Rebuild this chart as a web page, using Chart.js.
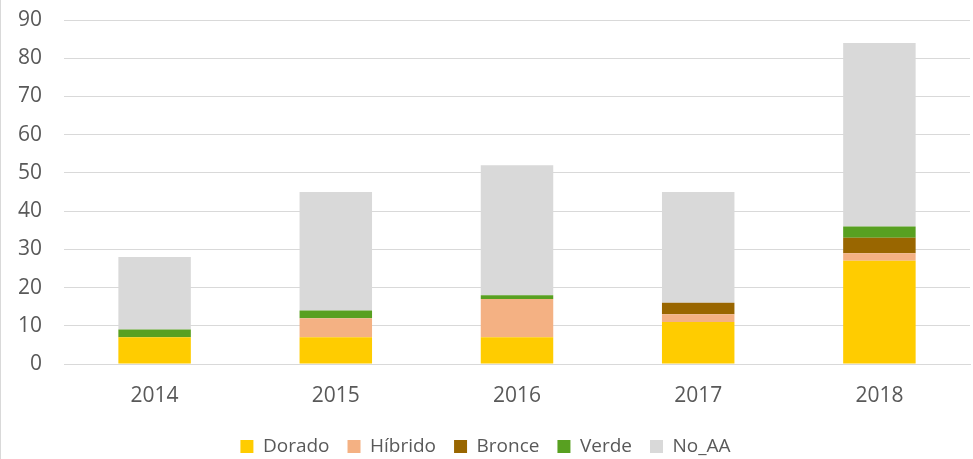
<!DOCTYPE html>
<html><head><meta charset="utf-8">
<script src="https://cdn.jsdelivr.net/npm/chart.js@4"></script>
<style>
html,body{margin:0;padding:0;background:#fff;}
#wrap{position:relative;width:973px;height:459px;box-sizing:border-box;border-left:1px solid #d9d9d9;}
</style></head><body>
<div id="wrap"><canvas id="c" width="972" height="459"></canvas></div>
<script>
const categories = ['2014','2015','2016','2017','2018'];
const dorado  = [7, 7, 7, 11, 27];
const hibrido = [0, 5, 10, 2, 2];
const bronce  = [0, 0, 0, 3, 4];
const verde   = [2, 2, 1, 0, 3];
const noAA    = [19, 31, 34, 29, 48];
const seriesNames = ['Dorado','Híbrido','Bronce','Verde','No_AA'];
const seriesColors = ['#FFCC00','#F4B183','#996600','#58A021','#D9D9D9'];
const yTicks = [0,10,20,30,40,50,60,70,80,90];

const FONT = "'Open Sans', 'Liberation Sans', sans-serif";
const values = [dorado, hibrido, bronce, verde, noAA];
const datasets = values.map((v,i)=>({
  label: seriesNames[i], data: v, backgroundColor: seriesColors[i],
  borderWidth: 0, categoryPercentage: 0.8, barPercentage: 0.5
}));

new Chart(document.getElementById('c'), {
  type: 'bar',
  data: { labels: categories, datasets },
  options: {
    responsive: false, animation: false,
    layout: { padding: { top: 20, right: 3, left: 0, bottom: -7 } },
    scales: {
      x: { stacked: true,
        afterFit: s => { s.height = 55; },
        grid: { display: false, drawTicks: false },
        border: { color: '#d9d9d9', width: 1 },
        ticks: { color: '#595959', font: { family: FONT, size: 21 }, padding: 19 } },
      y: { stacked: true, min: 0, max: 90,
        afterFit: s => { s.width = 63; s.paddingTop = 0; },
        afterBuildTicks: s => { s.ticks = yTicks.map(v=>({value:v})); },
        grid: { color: '#d9d9d9', drawTicks: false, lineWidth: 1 },
        border: { display: false },
        ticks: { color: '#595959', font: { family: FONT, size: 21 }, padding: 22 } }
    },
    plugins: {
      tooltip: { enabled: false },
      legend: { position: 'bottom',
        labels: { color: '#595959', font: { family: FONT, size: 19 }, boxWidth: 13, boxHeight: 13, padding: 18 } }
    }
  }
});
</script></body></html>
